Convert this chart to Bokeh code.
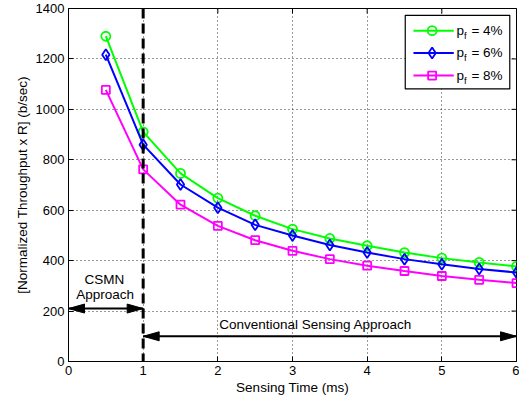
import math
from bokeh.plotting import figure
from bokeh.models import Range1d, Span, Label, FixedTicker
from bokeh.embed import file_html
from bokeh.resources import INLINE

# ---- data ----
sensing_time = [0.5, 1.0, 1.5, 2.0, 2.5, 3.0, 3.5, 4.0, 4.5, 5.0, 5.5, 6.0]
pf4 = [1290, 911, 746, 648, 578, 525, 488, 459, 432, 410, 393, 377]
pf6 = [1217, 860, 702, 610, 542, 500, 462, 432, 406, 386, 367, 353]
pf8 = [1077, 762, 622, 538, 481, 439, 406, 380, 359, 339, 324, 311]
series_labels = ["4%", "6%", "8%"]
x_ticks = [0, 1, 2, 3, 4, 5, 6]
y_ticks = [0, 200, 400, 600, 800, 1000, 1200, 1400]

# ---- layout constants ----
FONT = "Liberation Sans"
W, H = 519, 402
ML, MR, MT, MB = 68, 3, 8, 41
XMIN, XMAX, YMIN, YMAX = 0, 6, 0, 1400
SX = (W - ML - MR) / (XMAX - XMIN)   # px per x unit
SY = (H - MT - MB) / (YMAX - YMIN)   # px per y unit

p = figure(width=W, height=H, output_backend="svg", toolbar_location=None,
           x_range=Range1d(XMIN, XMAX), y_range=Range1d(YMIN, YMAX),
           min_border_left=ML, min_border_right=MR, min_border_top=MT,
           min_border_bottom=MB, background_fill_color="white",
           border_fill_color="white")
p.outline_line_color = "black"
p.outline_line_width = 1

for ax in (p.xaxis[0], p.yaxis[0]):
    ax.major_tick_in = 5
    ax.major_tick_out = 0
    ax.minor_tick_line_color = None
    ax.axis_line_color = "black"
    ax.major_tick_line_color = "black"
    ax.major_label_text_font = FONT
    ax.major_label_text_font_size = "13px"
    ax.major_label_text_color = "black"
    ax.axis_label_text_font = FONT
    ax.axis_label_text_font_size = "13.5px"
    ax.axis_label_text_font_style = "normal"
    ax.axis_label_text_color = "black"

p.xaxis.ticker = FixedTicker(ticks=x_ticks)
p.yaxis.ticker = FixedTicker(ticks=y_ticks)
p.xaxis.axis_label = "Sensing Time (ms)"
p.yaxis.axis_label = "[Normalized Throughput x R] (b/sec)"
p.xaxis.major_label_standoff = 4
p.xaxis.axis_label_standoff = 2
p.yaxis.major_label_standoff = 4
p.yaxis.axis_label_standoff = 3

p.xgrid.ticker = FixedTicker(ticks=x_ticks)
p.ygrid.ticker = FixedTicker(ticks=y_ticks)
for g in (p.xgrid[0], p.ygrid[0]):
    g.grid_line_color = "#333333"
    g.grid_line_dash = "1 3"
    g.grid_line_width = 1

# inward ticks on the top and right frame edges (clipped to the frame)
p.scatter(x_ticks, [YMAX] * len(x_ticks), marker="dash", angle=math.pi / 2,
          size=10, line_color="black", line_width=1)
p.scatter([XMAX] * len(y_ticks), y_ticks, marker="dash", size=10,
          line_color="black", line_width=1)

colors = ["#00FF00", "#0000FF", "#FF00FF"]
markers = ["circle", "diamond", "square"]
sizes = [9, 11, 8]
for ys, c, m, s in zip([pf4, pf6, pf8], colors, markers, sizes):
    p.line(sensing_time, ys, line_color=c, line_width=2)
    p.scatter(sensing_time, ys, marker=m, size=s, line_color=c, line_width=1.8,
              fill_color=None)

# dashed divider at 1 ms
p.add_layout(Span(location=1, dimension="height", line_color="black",
                  line_width=3, line_dash="10 5"))

# arrows (shaft + elongated heads)
HEAD_L, HEAD_W = 16, 4.5
def double_arrow(x0, x1, y):
    p.segment(x0, y, x1, y, line_color="black", line_width=2)
    dl = HEAD_L / SX
    dw = HEAD_W / SY
    p.patches([[x0, x0 + dl, x0 + dl], [x1, x1 - dl, x1 - dl]],
              [[y, y + dw, y - dw], [y, y + dw, y - dw]],
              fill_color="black", line_color="black")

double_arrow(0, 1, 210)
double_arrow(1, 6, 100)

def txt(x, y, s, size="13.5px"):
    p.add_layout(Label(x=x, y=y, text=s, text_font=FONT, text_font_size=size,
                       text_align="center", text_baseline="middle",
                       text_color="black"))

txt(0.48, 324, "CSMN")
txt(0.49, 265, "Approach")
txt(3.31, 148, "Conventional Sensing Approach")

# legend (drawn by hand for the subscript)
LX0, LX1, LY0, LY1 = 4.51, 5.91, 1081, 1373
p.quad(left=LX0, right=LX1, bottom=LY0, top=LY1, fill_color="white",
       line_color="black", line_width=1.2)
rows = [1312, 1224, 1134]
for row, c, m, s, lab in zip(rows, colors, markers, sizes, series_labels):
    p.line([4.62, 5.16], [row, row], line_color=c, line_width=2)
    p.scatter([4.87], [row], marker=m, size=s, line_color=c, line_width=1.8,
              fill_color=None)
    p.add_layout(Label(x=5.196, y=row, text="p", text_font=FONT,
                       text_font_size="13.5px", text_baseline="middle",
                       text_color="black"))
    p.add_layout(Label(x=5.196, y=row, x_offset=7.5, y_offset=-5, text="f",
                       text_font=FONT, text_font_size="9.5px",
                       text_baseline="middle", text_color="black"))
    p.add_layout(Label(x=5.196, y=row, x_offset=15, text="= " + lab,
                       text_font=FONT, text_font_size="13.5px",
                       text_baseline="middle", text_color="black"))

open("out.html", "w").write(file_html(p, INLINE))
